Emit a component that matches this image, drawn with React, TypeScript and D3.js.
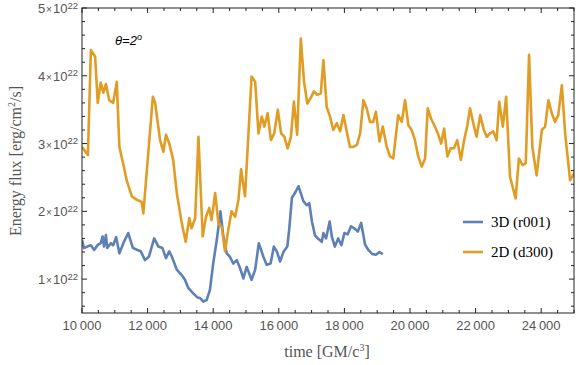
import * as d3 from "d3";

// 2D (d300) run
const tD300 = [
  10000, 10180, 10270, 10400, 10480, 10570, 10650, 10730, 10830, 10950, 11060, 11140, 11280, 11360,
  11520, 11670, 11820, 11870, 12160, 12230, 12380, 12480, 12560, 12660, 12780, 12890, 13040, 13160,
  13270, 13340, 13450, 13550, 13680, 13780, 13880, 13950, 14060, 14160, 14260, 14360, 14460, 14560,
  14670, 14770, 14850, 14970, 15170, 15280, 15380, 15480, 15560, 15660, 15760, 15860, 15970, 16070,
  16170, 16270, 16370, 16460, 16560, 16670, 16770, 16870, 16970, 17070, 17170, 17280, 17360, 17460,
  17560, 17660, 17770, 17870, 17970, 18070, 18170, 18270, 18380, 18480, 18580, 18680, 18780, 18880,
  18960, 19070, 19170, 19290, 19390, 19490, 19640, 19750, 19850, 19950, 20050, 20150, 20250, 20360,
  20460, 20540, 20640, 20740, 20850, 20950, 21040, 21140, 21240, 21340, 21440, 21550, 21650, 21750,
  21830, 21930, 22030, 22140, 22240, 22340, 22440, 22540, 22640, 22720, 22830, 22930, 23050, 23220,
  23320, 23430, 23530, 23630, 23730, 23860, 24020, 24120, 24220, 24320, 24420, 24520, 24630, 24730,
  24880, 25030,
];
const fluxD300 = [
  2.95, 2.83, 4.38, 4.28, 3.6, 3.9, 3.75, 3.88, 3.64, 3.6, 3.91, 2.95, 2.65, 2.46,
  2.22, 2.17, 2.14, 1.97, 3.69, 3.6, 3.05, 2.88, 3.13, 3.0, 2.76, 2.27, 1.83, 1.55,
  1.9, 1.75, 1.9, 3.1, 1.63, 1.92, 2.05, 1.87, 2.27, 1.82, 1.77, 1.41, 1.73, 2.0,
  1.92, 2.17, 2.62, 2.22, 3.99, 3.91, 3.15, 3.4, 3.25, 3.45, 3.05, 3.15, 3.5, 3.15,
  3.1, 2.93, 3.1, 3.62, 3.13, 4.55, 3.91, 3.59, 3.67, 3.77, 3.72, 3.74, 4.23, 3.54,
  3.4, 3.2, 3.3, 3.18, 3.42, 3.18, 2.95, 2.95, 2.98, 3.15, 3.64, 3.52, 3.32, 3.32,
  3.47, 3.03, 3.25, 2.95, 2.81, 2.78, 3.42, 3.32, 3.64, 3.27, 3.2, 3.05, 2.81, 2.66,
  2.78, 3.52, 3.37, 3.27, 3.15, 3.0, 3.22, 2.81, 2.93, 2.93, 3.05, 2.76, 3.05, 3.27,
  3.52, 3.3, 3.1, 3.42, 3.22, 3.1, 3.15, 3.18, 3.05, 3.62, 3.25, 3.69, 2.51, 2.19,
  2.78, 2.68, 2.71, 4.31, 2.95, 2.53, 3.2, 3.25, 3.64, 3.45, 3.32, 3.42, 3.86, 3.15,
  2.46, 2.58,
];

// 3D (r001) run
const tR001 = [
  10000, 10060, 10160, 10270, 10370, 10470, 10570, 10630, 10670, 10730, 10770, 10880, 10950, 11040,
  11140, 11260, 11410, 11550, 11690, 11790, 11920, 12040, 12200, 12330, 12450, 12560, 12660, 12740,
  12890, 13040, 13140, 13240, 13390, 13520, 13600, 13700, 13800, 13900, 14000, 14110, 14220, 14310,
  14410, 14510, 14610, 14720, 14820, 14920, 15020, 15170, 15280, 15390, 15530, 15630, 15750, 15850,
  15940, 16040, 16140, 16260, 16320, 16400, 16490, 16600, 16750, 16850, 16930, 17010, 17100, 17210,
  17310, 17360, 17440, 17550, 17620, 17710, 17810, 17910, 18000, 18100, 18200, 18300, 18410, 18510,
  18630, 18730, 18850, 18960, 19070, 19170,
];
const fluxR001 = [
  1.58, 1.46, 1.48, 1.5, 1.43, 1.5, 1.53, 1.63, 1.48, 1.65, 1.46, 1.53, 1.5, 1.62,
  1.38, 1.53, 1.68, 1.46, 1.43, 1.41, 1.28, 1.33, 1.6, 1.48, 1.46, 1.31, 1.41, 1.33,
  1.14, 1.06, 0.99, 0.87, 0.79, 0.73, 0.72, 0.67, 0.69, 0.84, 1.23, 1.58, 2.0, 1.63,
  1.38, 1.33, 1.23, 1.28, 1.16, 1.01, 1.18, 0.99, 1.14, 1.53, 1.33, 1.21, 1.23, 1.48,
  1.41, 1.26, 1.4, 1.48, 1.75, 2.2, 2.27, 2.37, 2.15, 2.09, 2.12, 1.85, 1.65, 1.59,
  1.55, 1.68, 1.6, 1.85, 1.62, 1.48, 1.6, 1.5, 1.68, 1.66, 1.78, 1.75, 1.7, 1.83,
  1.51, 1.43, 1.37, 1.36, 1.4, 1.37,
];

const xMajor = [10000, 12000, 14000, 16000, 18000, 20000, 22000, 24000];
const yMajor = [1, 2, 3, 4, 5];
const seriesNames = ["3D (r001)", "2D (d300)"];
const seriesColors = ["#5e81b5", "#e19c24"];

const W = 576;
const H = 365;
const left = 82, right = 574, top = 8, bottom = 313;

export default function App() {
  const x = d3.scaleLinear().domain([10000, 25000]).range([left, right]);
  const y = d3.scaleLinear().domain([0.5, 5]).range([bottom, top]);

  const line = d3
    .line<[number, number]>()
    .x((d) => x(d[0]))
    .y((d) => y(d[1]));

  const blue = tR001.map((t, i) => [t, fluxR001[i]] as [number, number]);
  const orange = tD300.map((t, i) => [t, fluxD300[i]] as [number, number]);

  const xMinor = d3.range(10000, 25001, 500).filter((v) => v % 2000 !== 0);
  const yMinor = d3.range(0.6, 4.9, 0.2).filter((v) => Math.abs(v - Math.round(v)) > 0.05);

  const sans = "'Liberation Sans', Arial, sans-serif";
  const serif = "'Liberation Serif', 'Times New Roman', serif";
  const frame = "#222";
  const tickText = "#555";

  return (
    <svg width={W} height={H} style={{ position: "absolute", left: 0, top: 0, background: "#fff" }}>
      <defs>
        <clipPath id="plot">
          <rect x={left} y={top} width={right - left} height={bottom - top} />
        </clipPath>
      </defs>

      {/* ticks on all four sides, pointing inward */}
      <g stroke={frame} strokeWidth={1}>
        {xMajor.map((v) => (
          <g key={"xM" + v}>
            <line x1={x(v)} x2={x(v)} y1={bottom} y2={bottom - 5} />
            <line x1={x(v)} x2={x(v)} y1={top} y2={top + 5} />
          </g>
        ))}
        {xMinor.map((v) => (
          <g key={"xm" + v}>
            <line x1={x(v)} x2={x(v)} y1={bottom} y2={bottom - 3} />
            <line x1={x(v)} x2={x(v)} y1={top} y2={top + 3} />
          </g>
        ))}
        {yMajor.map((v) => (
          <g key={"yM" + v}>
            <line x1={left} x2={left + 5} y1={y(v)} y2={y(v)} />
            <line x1={right} x2={right - 5} y1={y(v)} y2={y(v)} />
          </g>
        ))}
        {yMinor.map((v) => (
          <g key={"ym" + v.toFixed(1)}>
            <line x1={left} x2={left + 3} y1={y(v)} y2={y(v)} />
            <line x1={right} x2={right - 3} y1={y(v)} y2={y(v)} />
          </g>
        ))}
      </g>

      <g clipPath="url(#plot)" fill="none" strokeWidth={2.6} strokeLinejoin="round">
        <path d={line(blue) ?? ""} stroke={seriesColors[0]} />
        <path d={line(orange) ?? ""} stroke={seriesColors[1]} />
      </g>

      <rect x={left} y={top} width={right - left} height={bottom - top} fill="none" stroke={frame} strokeWidth={1} />

      {/* tick labels */}
      <g fontFamily={sans} fontSize={13} fill={tickText}>
        {xMajor.map((v) => (
          <text key={"xl" + v} x={x(v)} y={330} textAnchor="middle">
            {d3.format(",")(v).replace(",", "\u2009")}
          </text>
        ))}
        {yMajor.map((v) => (
          <text key={"yl" + v} x={78} y={y(v) + 5} textAnchor="end">
            {v}
            <tspan fontSize={10} dx={1}>×</tspan>
            <tspan dx={1}>10</tspan>
            <tspan fontSize={9.5} dy={-4.5}>22</tspan>
          </text>
        ))}
      </g>

      {/* axis labels */}
      <text x={327} y={357} textAnchor="middle" fontFamily={serif} fontSize={16} fill={tickText}>
        time [GM/c<tspan fontSize={10} dy={-6}>3</tspan>
        <tspan dy={6}>]</tspan>
      </text>
      <text
        transform="translate(21,161) rotate(-90)"
        textAnchor="middle"
        fontFamily={serif}
        fontSize={16}
        fill={tickText}
      >
        Energy flux [erg/cm<tspan fontSize={10} dy={-6}>2</tspan>
        <tspan dy={6}>/s]</tspan>
      </text>

      <text x={115} y={45} fontFamily={sans} fontStyle="italic" fontSize={13} fill="#000">
        θ=2<tspan fontSize={9} dy={-5} fontStyle="normal">o</tspan>
      </text>

      {/* legend */}
      {seriesNames.map((name, i) => (
        <g key={name}>
          <line x1={463} x2={483} y1={222 + i * 30} y2={222 + i * 30} stroke={seriesColors[i]} strokeWidth={2.6} />
          <text x={491} y={227 + i * 30} fontFamily={serif} fontSize={15} fill="#000">
            {name}
          </text>
        </g>
      ))}
    </svg>
  );
}
